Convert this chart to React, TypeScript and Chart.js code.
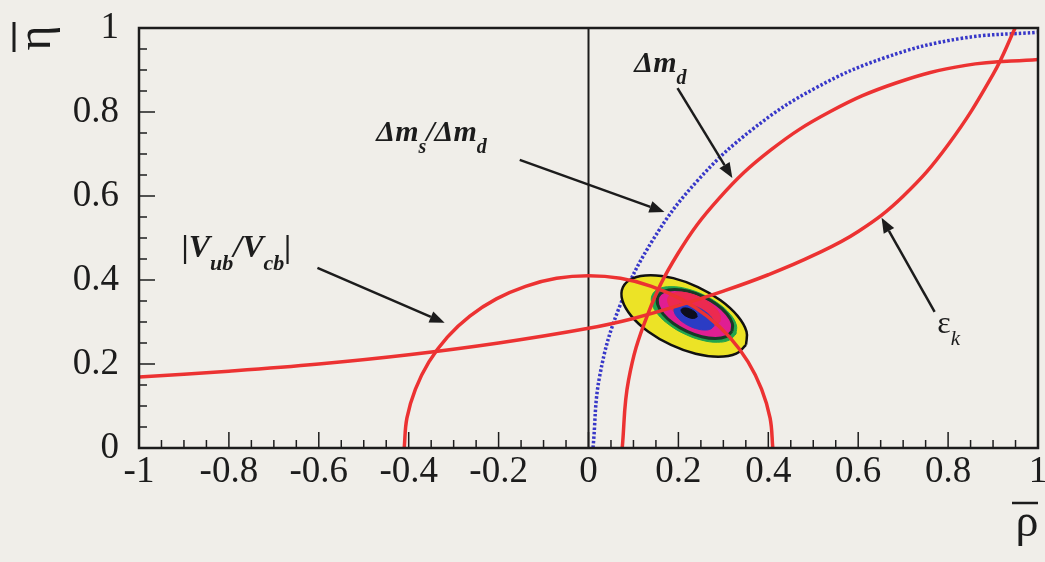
import React, { useEffect, useRef } from "react";
import { Chart, registerables } from "chart.js";
Chart.register(...registerables);

// ---------- axis ticks ----------
const xTickValues = [-1, -0.8, -0.6, -0.4, -0.2, 0, 0.2, 0.4, 0.6, 0.8, 1];
const xTickLabels = ["-1", "-0.8", "-0.6", "-0.4", "-0.2", "0", "0.2", "0.4", "0.6", "0.8", "1"];
const yTickValues = [0, 0.2, 0.4, 0.6, 0.8, 1];
const yTickLabels = ["0", "0.2", "0.4", "0.6", "0.8", "1"];

// ---------- |Vub/Vcb| circle ----------
const vubRho = [-0.41, -0.404, -0.385, -0.355, -0.314, -0.264, -0.205, -0.14, -0.071, 0, 0.071, 0.14, 0.205, 0.264, 0.314, 0.355, 0.385, 0.404, 0.41];
const vubEta = [0, 0.071, 0.14, 0.205, 0.264, 0.314, 0.355, 0.385, 0.404, 0.41, 0.404, 0.385, 0.355, 0.314, 0.264, 0.205, 0.14, 0.071, 0];

// ---------- Delta m_d circle ----------
const dmdRho = [0.075, 0.089, 0.131, 0.199, 0.291, 0.405, 0.538, 0.684, 0.839, 1.0];
const dmdEta = [0, 0.161, 0.316, 0.463, 0.595, 0.709, 0.801, 0.869, 0.911, 0.925];

// ---------- Delta m_s / Delta m_d circle (dotted) ----------
const dmsRho = [0.01, 0.025, 0.07, 0.143, 0.242, 0.364, 0.505, 0.661, 0.828, 1.0];
const dmsEta = [0, 0.172, 0.339, 0.495, 0.636, 0.758, 0.857, 0.93, 0.975, 0.99];

// ---------- epsilon_K hyperbola ----------
const epsRho = [-1, -0.8, -0.6, -0.4, -0.2, 0, 0.1, 0.2, 0.3, 0.4, 0.5, 0.6, 0.7, 0.8, 0.9, 0.95];
const epsEta = [0.169, 0.183, 0.2, 0.222, 0.25, 0.285, 0.3085, 0.339, 0.3735, 0.4125, 0.4585, 0.5155, 0.5995, 0.722, 0.8895, 1.002];

// ---------- fit contours (outer to inner) ----------
const c1Rho = [0.3505, 0.3286, 0.2892, 0.2383, 0.1835, 0.1333, 0.0954, 0.0754, 0.0765, 0.0984, 0.1378, 0.1887, 0.2435, 0.2937, 0.3316, 0.3516, 0.3505];
const c1Eta = [0.2457, 0.2245, 0.217, 0.2242, 0.2453, 0.2768, 0.314, 0.3513, 0.3829, 0.4041, 0.4116, 0.4044, 0.3833, 0.3518, 0.3146, 0.2773, 0.2457];
const c2Rho = [0.3282, 0.3133, 0.2865, 0.2519, 0.2146, 0.1805, 0.1547, 0.1411, 0.1418, 0.1567, 0.1835, 0.2181, 0.2554, 0.2895, 0.3153, 0.3289, 0.3282];
const c2Eta = [0.2714, 0.2569, 0.2518, 0.2567, 0.2711, 0.2925, 0.3178, 0.3432, 0.3646, 0.3791, 0.3842, 0.3793, 0.3649, 0.3435, 0.3182, 0.2928, 0.2714];
const c3Rho = [0.3192, 0.3061, 0.2824, 0.2519, 0.219, 0.1889, 0.1661, 0.1541, 0.1548, 0.1679, 0.1916, 0.2221, 0.255, 0.2851, 0.3079, 0.3199, 0.3192];
const c3Eta = [0.2778, 0.2651, 0.2606, 0.2649, 0.2776, 0.2965, 0.3188, 0.3412, 0.3602, 0.3729, 0.3774, 0.3731, 0.3604, 0.3415, 0.3192, 0.2968, 0.2778];
const cRRho = [0.2925, 0.2833, 0.2668, 0.2454, 0.2224, 0.2013, 0.1854, 0.177, 0.1775, 0.1867, 0.2032, 0.2246, 0.2476, 0.2687, 0.2846, 0.293, 0.2925];
const cREta = [0.3012, 0.2923, 0.2891, 0.2922, 0.301, 0.3142, 0.3299, 0.3455, 0.3588, 0.3677, 0.3709, 0.3678, 0.359, 0.3458, 0.3301, 0.3145, 0.3012];
const c4Rho = [0.2788, 0.2718, 0.2592, 0.2429, 0.2254, 0.2093, 0.1972, 0.1908, 0.1912, 0.1982, 0.2108, 0.2271, 0.2446, 0.2607, 0.2728, 0.2792, 0.2788];
const c4Eta = [0.29, 0.2833, 0.2809, 0.2832, 0.2899, 0.3, 0.3119, 0.3238, 0.334, 0.3407, 0.3431, 0.3408, 0.3341, 0.324, 0.3121, 0.3002, 0.29];
const c5Rho = [0.2418, 0.2338, 0.2201, 0.2086, 0.2062, 0.2142, 0.2279, 0.2394, 0.2418];
const c5Eta = [0.3121, 0.3084, 0.312, 0.321, 0.3299, 0.3336, 0.33, 0.321, 0.3121];

// ---------- vertical line at rho = 0 ----------
const axisRho = [0, 0];
const axisEta = [0, 1];

// ---------- annotations ----------
const arrowFrom = [[-0.603, 0.429], [-0.153, 0.686], [0.198, 0.857], [0.77, 0.324]];
const arrowTo = [[-0.32, 0.298], [0.169, 0.562], [0.32, 0.643], [0.652, 0.548]];

type Piece = [string, boolean];
const vubLabel: Piece[] = [["|V", false], ["ub", true], ["/V", false], ["cb", true], ["|", false]];
const dmsLabel: Piece[] = [["Δm", false], ["s", true], ["/Δm", false], ["d", true]];
const dmdLabel: Piece[] = [["Δm", false], ["d", true]];
const epsLabel: Piece[] = [["ε", false], ["k", true]];
const labelPos = [[-0.905, 0.455], [-0.472, 0.731], [0.102, 0.895], [0.776, 0.274]];
const labels = [vubLabel, dmsLabel, dmdLabel, epsLabel];

const BG = "#f0eee9";
const INK = "#1c1c1c";
const RED = "rgb(236,50,50)";
const SERIF = '"Liberation Serif", "DejaVu Serif", serif';

function pts(r: number[], e: number[]) {
  return r.map((x, i) => ({ x, y: e[i] }));
}

function drawRich(ctx: CanvasRenderingContext2D, x: number, y: number, pieces: Piece[], main: string, sub: string, dy: number) {
  let cx = x;
  ctx.textAlign = "left";
  ctx.textBaseline = "alphabetic";
  for (const [t, isSub] of pieces) {
    ctx.font = isSub ? sub : main;
    ctx.fillText(t, cx, isSub ? y + dy : y);
    cx += ctx.measureText(t).width;
  }
}

const deco = {
  id: "deco",
  beforeDraw(chart: any) {
    const ctx = chart.ctx;
    ctx.save();
    ctx.fillStyle = BG;
    ctx.fillRect(0, 0, chart.width, chart.height);
    ctx.restore();
  },
  afterDatasetsDraw(chart: any) {
    const ctx = chart.ctx;
    const { left, right, top, bottom } = chart.chartArea;
    const xs = chart.scales.x;
    const ys = chart.scales.y;
    ctx.save();
    ctx.strokeStyle = INK;
    ctx.lineWidth = 1.5;
    for (let i = 0; i <= 40; i++) {
      const px = xs.getPixelForValue(-1 + i * 0.05);
      const len = i % 4 === 0 ? 16 : 8;
      ctx.beginPath();
      ctx.moveTo(px, bottom);
      ctx.lineTo(px, bottom - len);
      ctx.stroke();
    }
    for (let i = 0; i <= 20; i++) {
      const py = ys.getPixelForValue(i * 0.05);
      const len = i % 4 === 0 ? 16 : 8;
      ctx.beginPath();
      ctx.moveTo(left, py);
      ctx.lineTo(left + len, py);
      ctx.stroke();
    }
    ctx.lineWidth = 2.5;
    ctx.strokeRect(left, top, right - left, bottom - top);
    ctx.restore();
  },
  afterDraw(chart: any) {
    const ctx = chart.ctx;
    const xs = chart.scales.x;
    const ys = chart.scales.y;
    ctx.save();
    // arrows
    ctx.strokeStyle = INK;
    ctx.fillStyle = INK;
    ctx.lineWidth = 2.5;
    for (let i = 0; i < arrowFrom.length; i++) {
      const x0 = xs.getPixelForValue(arrowFrom[i][0]);
      const y0 = ys.getPixelForValue(arrowFrom[i][1]);
      const x1 = xs.getPixelForValue(arrowTo[i][0]);
      const y1 = ys.getPixelForValue(arrowTo[i][1]);
      const a = Math.atan2(y1 - y0, x1 - x0);
      const hl = 15, hw = 6;
      const bx = x1 - hl * Math.cos(a), by = y1 - hl * Math.sin(a);
      ctx.beginPath();
      ctx.moveTo(x0, y0);
      ctx.lineTo(bx, by);
      ctx.stroke();
      ctx.beginPath();
      ctx.moveTo(x1, y1);
      ctx.lineTo(bx + hw * Math.sin(a), by - hw * Math.cos(a));
      ctx.lineTo(bx - hw * Math.sin(a), by + hw * Math.cos(a));
      ctx.closePath();
      ctx.fill();
    }
    // labels
    for (let i = 0; i < labels.length; i++) {
      const x = xs.getPixelForValue(labelPos[i][0]);
      const y = ys.getPixelForValue(labelPos[i][1]);
      if (i === 3) {
        drawRich(ctx, x, y, labels[i], `32px ${SERIF}`, `italic 21px ${SERIF}`, 12);
      } else if (i === 0) {
        drawRich(ctx, x, y, labels[i], `italic bold 32px ${SERIF}`, `italic bold 22px ${SERIF}`, 13);
      } else {
        drawRich(ctx, x, y, labels[i], `italic bold 30px ${SERIF}`, `italic bold 20px ${SERIF}`, 12);
      }
    }
    // axis titles
    ctx.font = `48px ${SERIF}`;
    ctx.textAlign = "center";
    ctx.textBaseline = "alphabetic";
    ctx.save();
    ctx.translate(50, 38);
    ctx.rotate(-Math.PI / 2);
    ctx.fillText("η", 0, 0);
    ctx.restore();
    ctx.lineWidth = 3;
    ctx.beginPath();
    ctx.moveTo(14, 22);
    ctx.lineTo(14, 52);
    ctx.stroke();
    ctx.font = `46px ${SERIF}`;
    ctx.fillText("ρ", 1027, 536);
    ctx.lineWidth = 2.5;
    ctx.beginPath();
    ctx.moveTo(1012, 503);
    ctx.lineTo(1038, 503);
    ctx.stroke();
    ctx.restore();
  },
};

export default function App() {
  const ref = useRef<HTMLCanvasElement | null>(null);
  useEffect(() => {
    document.body.style.margin = "0";
    document.body.style.background = BG;
    const canvas = ref.current!;
    const mk = (label: string, r: number[], e: number[], extra: any) => ({
      label,
      data: pts(r, e),
      showLine: true,
      pointRadius: 0,
      pointHoverRadius: 0,
      tension: 0.4,
      fill: false,
      ...extra,
    });
    const chart = new Chart(canvas, {
      type: "scatter",
      data: {
        datasets: [
          mk("eps", epsRho, epsEta, { borderColor: RED, borderWidth: 3.5, order: 1 }),
          mk("dmd", dmdRho, dmdEta, { borderColor: RED, borderWidth: 3.5, order: 1 }),
          mk("vub", vubRho, vubEta, { borderColor: RED, borderWidth: 3.5, order: 1 }),
          mk("axis", axisRho, axisEta, { borderColor: INK, borderWidth: 2, tension: 0, order: 5 }),
          mk("c5", c5Rho, c5Eta, { borderColor: "#0d0d1e", backgroundColor: "#0d0d1e", borderWidth: 1, fill: "shape", order: 11 }),
          mk("c4", c4Rho, c4Eta, { borderColor: "#2b3cc4", backgroundColor: "#2b3cc4", borderWidth: 1, fill: "shape", order: 12 }),
          mk("cR", cRRho, cREta, { borderColor: "#ec2a50", backgroundColor: "#ec2a50", borderWidth: 1, fill: "shape", order: 12.5 }),
          mk("c3", c3Rho, c3Eta, { borderColor: "#183a26", backgroundColor: "#e01e92", borderWidth: 3, fill: "shape", order: 13 }),
          mk("c2", c2Rho, c2Eta, { borderColor: "#22a54c", backgroundColor: "#22a54c", borderWidth: 1, fill: "shape", order: 14 }),
          mk("c1", c1Rho, c1Eta, { borderColor: "#111111", backgroundColor: "#ece326", borderWidth: 2.5, fill: "shape", order: 15 }),
          mk("dms", dmsRho, dmsEta, { borderColor: "rgb(55,55,200)", borderWidth: 3.5, borderDash: [2.5, 2], order: 20 }),
        ],
      },
      options: {
        animation: false,
        responsive: false,
        devicePixelRatio: 1,
        layout: { autoPadding: false, padding: { top: 28, right: 7, left: 0, bottom: 0 } },
        plugins: { legend: { display: false }, tooltip: { enabled: false } },
        events: [],
        scales: {
          x: {
            type: "linear",
            min: -1,
            max: 1,
            border: { display: false },
            grid: { display: false, drawTicks: false },
            ticks: {
              stepSize: 0.2,
              autoSkip: false,
              maxRotation: 0,
              padding: 2,
              color: INK,
              font: { family: SERIF, size: 37 },
              callback: (v: any) => {
                const i = xTickValues.findIndex((t) => Math.abs(t - v) < 1e-6);
                return i >= 0 ? xTickLabels[i] : "";
              },
            },
            afterFit: (s: any) => {
              s.height = 114;
              s.paddingLeft = 0;
              s.paddingRight = 0;
              s.paddingTop = 0;
              s.paddingBottom = 0;
            },
          },
          y: {
            type: "linear",
            min: 0,
            max: 1,
            border: { display: false },
            grid: { display: false, drawTicks: false },
            ticks: {
              stepSize: 0.2,
              autoSkip: false,
              padding: 20,
              color: INK,
              font: { family: SERIF, size: 37 },
              callback: (v: any) => {
                const i = yTickValues.findIndex((t) => Math.abs(t - v) < 1e-6);
                return i >= 0 ? yTickLabels[i] : "";
              },
            },
            afterFit: (s: any) => {
              s.width = 139;
              s.paddingLeft = 0;
              s.paddingRight = 0;
              s.paddingTop = 0;
              s.paddingBottom = 0;
            },
          },
        },
      },
      plugins: [deco],
    } as any);
    return () => chart.destroy();
  }, []);
  return (
    <div style={{ width: 1045, height: 562, position: "relative" }}>
      <canvas ref={ref} width={1045} height={562} style={{ display: "block" }} />
    </div>
  );
}
